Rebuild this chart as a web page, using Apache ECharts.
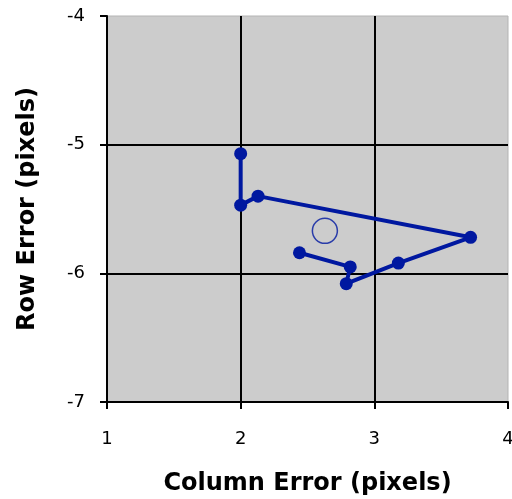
<!DOCTYPE html>
<html>
<head>
<meta charset="utf-8">
<script src="https://cdn.jsdelivr.net/npm/echarts@6/dist/echarts.min.js"></script>
<style>
  html, body { margin: 0; padding: 0; background: #fff; }
  #chart { width: 512px; height: 499px; }
</style>
</head>
<body>
<div id="chart"></div>
<script>
// track of the error, in order
const colErr = [2.0, 2.0, 2.13, 3.72, 3.18, 2.79, 2.82, 2.44];
const rowErr = [-5.07, -5.47, -5.40, -5.72, -5.92, -6.08, -5.95, -5.84];
// mean position (open circle)
const meanCol = [2.63];
const meanRow = [-5.67];

const xTicks = [1, 2, 3, 4];
const yTicks = [-7, -6, -5, -4];

const blue = "#0018a0";
const fontFam = "DejaVu Sans";

const chart = echarts.init(document.getElementById("chart"));

const axisCommon = {
    type: "value",
    interval: 1,
    axisLine: { show: true, lineStyle: { color: "#000", width: 2 } },
    axisTick: { show: true, length: 7, lineStyle: { color: "#000", width: 2 } },
    axisLabel: { color: "#000", fontSize: 18, fontFamily: fontFam, margin: 22 },
    splitLine: { show: true, showMinLine: false, showMaxLine: false, lineStyle: { color: "#000", width: 2 } },
    nameLocation: "middle",
    nameTextStyle: { color: "#000", fontSize: 24, fontWeight: "bold", fontFamily: fontFam },
};

chart.setOption({
    animation: false,
    grid: {
        left: 107, right: 4, top: 16, bottom: 97,
        outerBoundsMode: "none",
        show: true, backgroundColor: "#cccccc", borderColor: "#b4b4b4", borderWidth: 1,
    },
    xAxis: Object.assign({}, axisCommon, {
        min: xTicks[0], max: xTicks[xTicks.length - 1],
        name: "Column Error (pixels)", nameGap: 70,
        axisLabel: Object.assign({}, axisCommon.axisLabel, { margin: 28 }),
    }),
    yAxis: Object.assign({}, axisCommon, {
        min: yTicks[0], max: yTicks[yTicks.length - 1],
        name: "Row Error (pixels)", nameGap: 67,
    }),
    series: [
        {
            type: "line",
            data: colErr.map((c, i) => [c, rowErr[i]]),
            symbol: "circle",
            symbolSize: 13,
            lineStyle: { color: blue, width: 4 },
            itemStyle: { color: blue },
        },
        {
            type: "scatter",
            data: meanCol.map((c, i) => [c, meanRow[i]]),
            symbol: "circle",
            symbolSize: 25,
            itemStyle: { color: "rgba(0,0,0,0)", borderColor: blue, borderWidth: 1.5 },
        },
    ],
});
</script>
</body>
</html>
